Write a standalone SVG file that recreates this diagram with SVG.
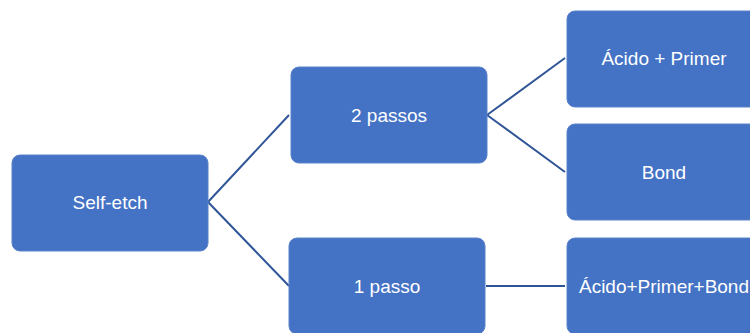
<svg xmlns="http://www.w3.org/2000/svg" width="750" height="333" viewBox="0 0 750 333">
<style>
.box{fill:#4472C4;stroke:#5B82CA;stroke-width:1}
.lbl{font-family:"Liberation Sans",Arial,sans-serif;font-size:19px;fill:#FFFFFF;text-anchor:middle}
.conn{stroke:#2F5597;stroke-width:2;fill:none}
</style>
<rect width="750" height="333" fill="#FFFFFF"/>
<g id="connectors">
<line class="conn" x1="208" y1="202" x2="289" y2="115"/>
<line class="conn" x1="208" y1="202" x2="289" y2="286"/>
<line class="conn" x1="487" y1="115" x2="565" y2="58"/>
<line class="conn" x1="487" y1="115" x2="565" y2="172"/>
<line class="conn" x1="486" y1="286" x2="565" y2="286"/>
</g>
<g id="self-etch">
<rect class="box" x="12" y="155" width="196" height="96" rx="8"/>
<text class="lbl" x="110" y="209">Self-etch</text>
</g>
<g id="dois-passos">
<rect class="box" x="291" y="67" width="196" height="96" rx="8"/>
<text class="lbl" x="389" y="122">2 passos</text>
</g>
<g id="um-passo">
<rect class="box" x="289" y="238" width="196" height="96" rx="8"/>
<text class="lbl" x="387" y="293">1 passo</text>
</g>
<g id="acido-primer">
<rect class="box" x="567" y="11" width="196" height="96" rx="8"/>
<text class="lbl" x="664" y="65">Ácido + Primer</text>
</g>
<g id="bond">
<rect class="box" x="567" y="124" width="196" height="96" rx="8"/>
<text class="lbl" x="664" y="179">Bond</text>
</g>
<g id="acido-primer-bond">
<rect class="box" x="567" y="238" width="196" height="96" rx="8"/>
<text class="lbl" x="664" y="293">Ácido+Primer+Bond</text>
</g>
</svg>
